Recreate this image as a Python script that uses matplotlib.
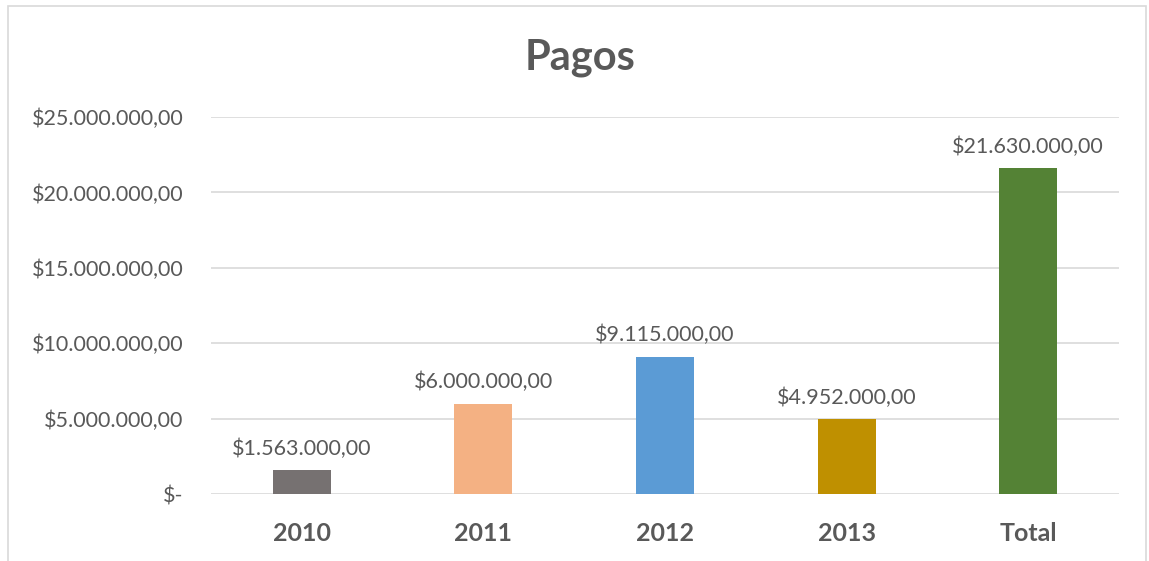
import matplotlib.pyplot as plt
from matplotlib.patches import Rectangle
from matplotlib.ticker import FuncFormatter

categories = ['2010', '2011', '2012', '2013', 'Total']
pagos = [1563000, 6000000, 9115000, 4952000, 21630000]
bar_colors = ['#767171', '#F4B183', '#5B9BD5', '#BF9000', '#548235']
y_ticks = [0, 5000000, 10000000, 15000000, 20000000, 25000000]

TEXT = '#595959'
plt.rcParams['font.family'] = ['Lato', 'DejaVu Sans']


def money(v, pos=None):
    if v == 0:
        return '$-'
    s = f"{v:,.2f}".replace(',', 'X').replace('.', ',').replace('X', '.')
    return '$' + s


fig = plt.figure(figsize=(11.49, 5.61), dpi=100)
ax = fig.add_axes([0.1836, 0.1194, 0.7903, 0.672])

x = range(len(categories))
ax.bar(x, pagos, width=0.32, color=bar_colors, zorder=3)

# data labels above each bar
for i, v in enumerate(pagos):
    ax.annotate(money(v), (i, v), xytext=(0, 8), textcoords='offset points',
                ha='center', va='bottom', fontsize=15.5, color=TEXT)

ax.set_xlim(-0.5, len(categories) - 0.5)
ax.set_ylim(0, 25000000)
ax.set_yticks(y_ticks)
ax.yaxis.set_major_formatter(FuncFormatter(money))
ax.set_xticks(list(x))
ax.set_xticklabels(categories, fontsize=18, fontweight='bold', color=TEXT)
ax.tick_params(axis='y', length=0, pad=20, labelsize=15.5, labelcolor=TEXT)
ax.tick_params(axis='x', length=0, pad=20)
ax.grid(axis='y', color='#D9D9D9', linewidth=1.2, zorder=0)
for s in ax.spines.values():
    s.set_visible(False)

fig.text(0.505, 0.897, 'Pagos', ha='center', va='center', fontsize=30,
         fontweight='bold', color=TEXT)

# chart frame
fig.patches.append(Rectangle((8 / 1149, -0.01), 1138 / 1149, 1 - 6 / 561 + 0.01,
                             transform=fig.transFigure, fill=False,
                             edgecolor='#D9D9D9', linewidth=1.2))

fig.savefig('out.png', dpi=100)
